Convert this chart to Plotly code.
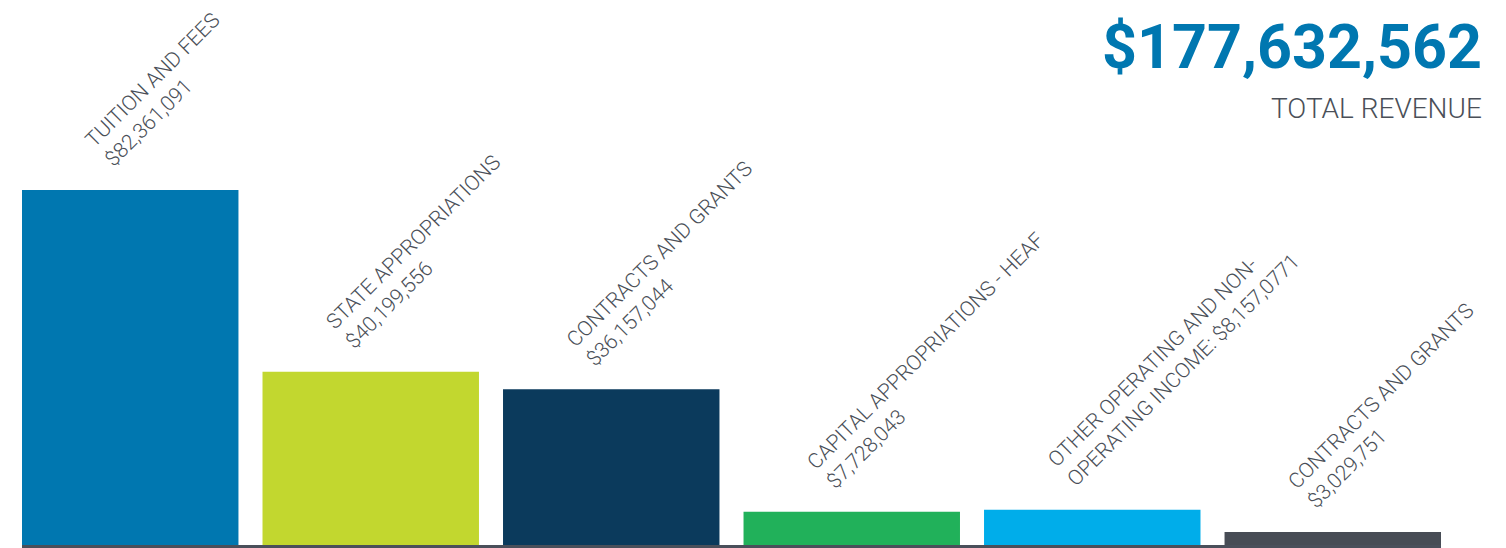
import plotly.graph_objects as go

categories = ["TUITION AND FEES", "STATE APPROPRIATIONS", "CONTRACTS AND GRANTS",
              "CAPITAL APPROPRIATIONS - HEAF",
              "OTHER OPERATING AND NON-<br>OPERATING INCOME:", "CONTRACTS AND GRANTS "]
values = [82361091, 40199556, 36157044, 7728043, 8157077, 3029751]
value_labels = ["$82,361,091", "$40,199,556", "$36,157,044", "$7,728,043",
                "$8,157,0771", "$3,029,751"]
colors = ["#0077b0", "#c2d72f", "#0b3a5c", "#21b15a", "#00adea", "#474c55"]
total_label = "$177,632,562"
total_caption = "TOTAL REVENUE"

FONT = "Roboto, Liberation Sans, sans-serif"
TEXT = "#4a4f58"

W, H = 1498, 540
L, R, T, B = 14, 65, 106, 3

fig = go.Figure(go.Bar(x=categories, y=values, marker=dict(color=colors, line=dict(width=0)),
                       hoverinfo="skip"))

for cat, val, vl in zip(categories, values, value_labels):
    sep = " " if "<br>" in cat else "<br>"
    fig.add_annotation(x=cat, y=val, xref="x", yref="y", text=cat.strip() + sep + vl,
                       textangle=-45, xanchor="left", yanchor="bottom", align="left",
                       showarrow=False, xshift=-52, yshift=16,
                       font=dict(family=FONT, size=21, color=TEXT, weight=300))

pw, ph = W - L - R, H - T - B
fig.add_annotation(x=(1484 - 8 - L) / pw, y=1 + (T - 1) / ph, xref="paper", yref="paper",
                   text=total_label, showarrow=False, xanchor="right", yanchor="top",
                   font=dict(family="Roboto, Liberation Sans", size=61, color="#0077b0", weight="bold"))
fig.add_annotation(x=(1484 - 8 - L) / pw, y=1 + (T - 82) / ph, xref="paper", yref="paper",
                   text=total_caption, showarrow=False, xanchor="right", yanchor="top",
                   font=dict(family=FONT, size=28, color=TEXT, weight=300))

fig.update_layout(
    width=W, height=H, margin=dict(l=L, r=R, t=T, b=B),
    paper_bgcolor="white", plot_bgcolor="white", showlegend=False, bargap=0.1,
    xaxis=dict(range=[-0.45, 5.45], showticklabels=False, showgrid=False, zeroline=False,
               showline=True, linecolor="#4a4f5a", linewidth=3, ticks=""),
    yaxis=dict(range=[0, 100000000], visible=False, showgrid=False, zeroline=False),
)

fig.write_html("out.html")
